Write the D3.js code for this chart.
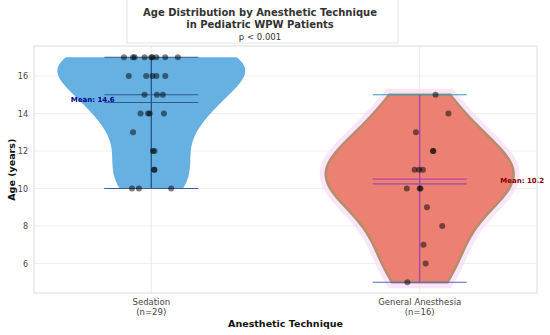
<!DOCTYPE html>
<html>
<head>
<meta charset="utf-8">
<script src="https://cdn.jsdelivr.net/npm/d3@7"></script>
<style>
    html, body { margin: 0; padding: 0; background: #fff; }
    svg { display: block; font-family: "DejaVu Sans", sans-serif; }
</style>
</head>
<body>
<div id="chart"></div>
<script>
// ages, one entry per patient
const sedationAges = [17, 17, 17, 17, 17, 17, 17, 17, 17, 16, 16, 16, 16, 16, 15, 15, 15, 14, 14, 14, 14, 13, 12, 12, 11, 11, 10, 10, 10];
const sedationJitter = [-0.102, -0.068, -0.062, -0.025, 0, 0.004, 0.019, 0.052, 0.099, -0.084, -0.019, 0.004, 0.019, 0.052, -0.025, 0.021, 0.043, -0.04, -0.012, -0.006, 0.047, -0.068, 0.006, 0.012, 0.01, 0.012, -0.072, -0.046, 0.074];
const generalAges = [15, 14, 13, 12, 12, 11, 11, 11, 10, 10, 10, 9, 8, 7, 6, 5];
const generalJitter = [0.059, 0.107, -0.014, 0.051, 0.049, -0.019, -0.002, 0.012, -0.048, 0, 0.003, 0.027, 0.084, 0.014, 0.022, -0.046];

const categories = ["Sedation", "General Anesthesia"];
const yTicks = [6, 8, 10, 12, 14, 16];
const titleLines = ["Age Distribution by Anesthetic Technique", "in Pediatric WPW Patients"];
const subtitle = "p < 0.001";

const groups = [
    { name: categories[0], ages: sedationAges, jitter: sedationJitter, fill: "#66b0e2", edge: "none",
      lines: { max: "#2d5d8e", min: "#3d5c94", bar: "#1f4f80", median: "#2d5d8e", mean: "#2d5d8e" },
      meanColor: "#00008b", meanDx: -0.3 },
    { name: categories[1], ages: generalAges, jitter: generalJitter, fill: "#ec8073", edge: "#b48e6c",
      lines: { max: "#2f9fba", min: "#5565b8", bar: "#9c3fb0", median: "#c0409f", mean: "#8a4fa8" },
      meanColor: "#8b0000", meanDx: 0.3 },
];

const width = 550, height = 335;
const margin = { top: 46, right: 13, bottom: 42, left: 34 };

const svg = d3.select("#chart").append("svg")
    .attr("width", width)
    .attr("height", height);

const x = d3.scaleLinear().domain([-0.437, 1.437]).range([margin.left, width - margin.right]);
const y = d3.scaleLinear().domain([4.427, 17.6]).range([height - margin.bottom, margin.top]);

// python-style rounding (half to even) so 10.25 prints as 10.2
function fmt1(v) {
    const s = v * 10, f = Math.floor(s), r = s - f;
    const n = Math.abs(r - 0.5) < 1e-9 ? (f % 2 === 0 ? f : f + 1) : Math.round(s);
    return (n / 10).toFixed(1);
}

// grid
const gridG = svg.append("g");
gridG.selectAll("line.h").data(yTicks).join("line")
    .attr("x1", margin.left).attr("x2", width - margin.right)
    .attr("y1", d => y(d)).attr("y2", d => y(d))
    .attr("stroke", "#ebebeb").attr("stroke-width", 0.8);
gridG.selectAll("line.v").data(categories).join("line")
    .attr("x1", (d, i) => x(i)).attr("x2", (d, i) => x(i))
    .attr("y1", margin.top).attr("y2", height - margin.bottom)
    .attr("stroke", "#e3e3e3").attr("stroke-width", 0.8);

// gaussian kde with scott's rule, evaluated between min and max (no tails)
function kde(values) {
    const n = values.length;
    const bw = Math.pow(n, -0.2) * d3.deviation(values);
    const lo = d3.min(values), hi = d3.max(values);
    const pts = d3.range(0, 101).map(k => lo + (hi - lo) * k / 100);
    return pts.map(v => [v, d3.mean(values, d => Math.exp(-0.5 * ((v - d) / bw) ** 2))]);
}

const violinG = svg.append("g");
groups.forEach((g, i) => {
    const dens = kde(g.ages);
    const maxD = d3.max(dens, d => d[1]);
    const halfW = x(0.35) - x(0);
    // outline: right side top-down then left side back up
    const outline = dens.map(d => [x(i) + halfW * d[1] / maxD, y(d[0])])
        .concat(dens.slice().reverse().map(d => [x(i) - halfW * d[1] / maxD, y(d[0])]));
    const shape = d3.line()(outline) + "Z";

    if (g.edge !== "none") {
        violinG.append("path").attr("d", shape)
            .attr("fill", "none").attr("stroke", "#fadcf6").attr("stroke-width", 12)
            .attr("stroke-opacity", 0.7);
    }
    violinG.append("path").attr("d", shape)
        .attr("fill", g.fill)
        .attr("stroke", g.edge)
        .attr("stroke-width", 2.5);

    const lo = d3.min(g.ages), hi = d3.max(g.ages);
    const hw = x(0.175) - x(0);
    const hline = (v, c) => violinG.append("line")
        .attr("x1", x(i) - hw).attr("x2", x(i) + hw)
        .attr("y1", y(v)).attr("y2", y(v))
        .attr("stroke", c).attr("stroke-width", 1.2);
    violinG.append("line")
        .attr("x1", x(i)).attr("x2", x(i))
        .attr("y1", y(lo)).attr("y2", y(hi))
        .attr("stroke", g.lines.bar).attr("stroke-width", 1.2);
    hline(hi, g.lines.max);
    hline(lo, g.lines.min);
    hline(d3.median(g.ages), g.lines.median);
    hline(d3.mean(g.ages), g.lines.mean);
});

// jittered points
const ptsG = svg.append("g");
groups.forEach((g, i) => {
    ptsG.selectAll(null).data(g.ages).join("circle")
        .attr("cx", (d, k) => x(i + g.jitter[k]))
        .attr("cy", d => y(d))
        .attr("r", 3)
        .attr("fill", "#000")
        .attr("fill-opacity", 0.5);
});

// mean labels
groups.forEach((g, i) => {
    const m = d3.mean(g.ages);
    svg.append("text")
        .attr("x", x(i + g.meanDx))
        .attr("y", y(m) - 1)
        .style("font-size", "7px")
        .style("font-weight", "bold")
        .style("fill", g.meanColor)
        .text(`Mean: ${fmt1(m)}`);
});

// frame
svg.append("rect")
    .attr("x", margin.left).attr("y", margin.top)
    .attr("width", width - margin.left - margin.right)
    .attr("height", height - margin.top - margin.bottom)
    .attr("fill", "none").attr("stroke", "#dcdcdc").attr("stroke-width", 1);

// axes
const yAxis = svg.append("g")
    .attr("transform", `translate(${margin.left},0)`)
    .call(d3.axisLeft(y).tickValues(yTicks).tickSize(0).tickPadding(6));
yAxis.select(".domain").remove();
yAxis.selectAll("text").style("font-size", "8px").style("fill", "#444").style("font-family", "DejaVu Sans");

const xAxis = svg.append("g")
    .attr("transform", `translate(0,${height - margin.bottom})`);
groups.forEach((g, i) => {
    const t = xAxis.append("text")
        .attr("x", x(i)).attr("y", 12)
        .attr("text-anchor", "middle")
        .style("font-size", "8.5px").style("fill", "#444");
    t.append("tspan").attr("x", x(i)).attr("dy", 0).text(g.name);
    t.append("tspan").attr("x", x(i)).attr("dy", 10).text(`(n=${g.ages.length})`);
});

svg.append("text")
    .attr("x", (margin.left + width - margin.right) / 2)
    .attr("y", 327)
    .attr("text-anchor", "middle")
    .style("font-size", "9.5px").style("font-weight", "bold").style("fill", "#111")
    .text("Anesthetic Technique");

svg.append("text")
    .attr("transform", `translate(15,${y(11)}) rotate(-90)`)
    .attr("text-anchor", "middle")
    .style("font-size", "9.5px").style("font-weight", "bold").style("fill", "#111")
    .text("Age (years)");

// title box
svg.append("rect")
    .attr("x", 127).attr("y", -2).attr("width", 271).attr("height", 45)
    .attr("fill", "#fff").attr("fill-opacity", 0.85)
    .attr("stroke", "#e4e4e4").attr("stroke-width", 1);
titleLines.forEach((t, k) => {
    svg.append("text")
        .attr("x", 260).attr("y", 16 + k * 11.5)
        .attr("text-anchor", "middle")
        .style("font-size", "10px").style("font-weight", "bold").style("fill", "#333")
        .text(t);
});
svg.append("text")
    .attr("x", 260).attr("y", 40)
    .attr("text-anchor", "middle")
    .style("font-size", "8.5px").style("fill", "#333")
    .text(subtitle);
</script>
</body>
</html>
